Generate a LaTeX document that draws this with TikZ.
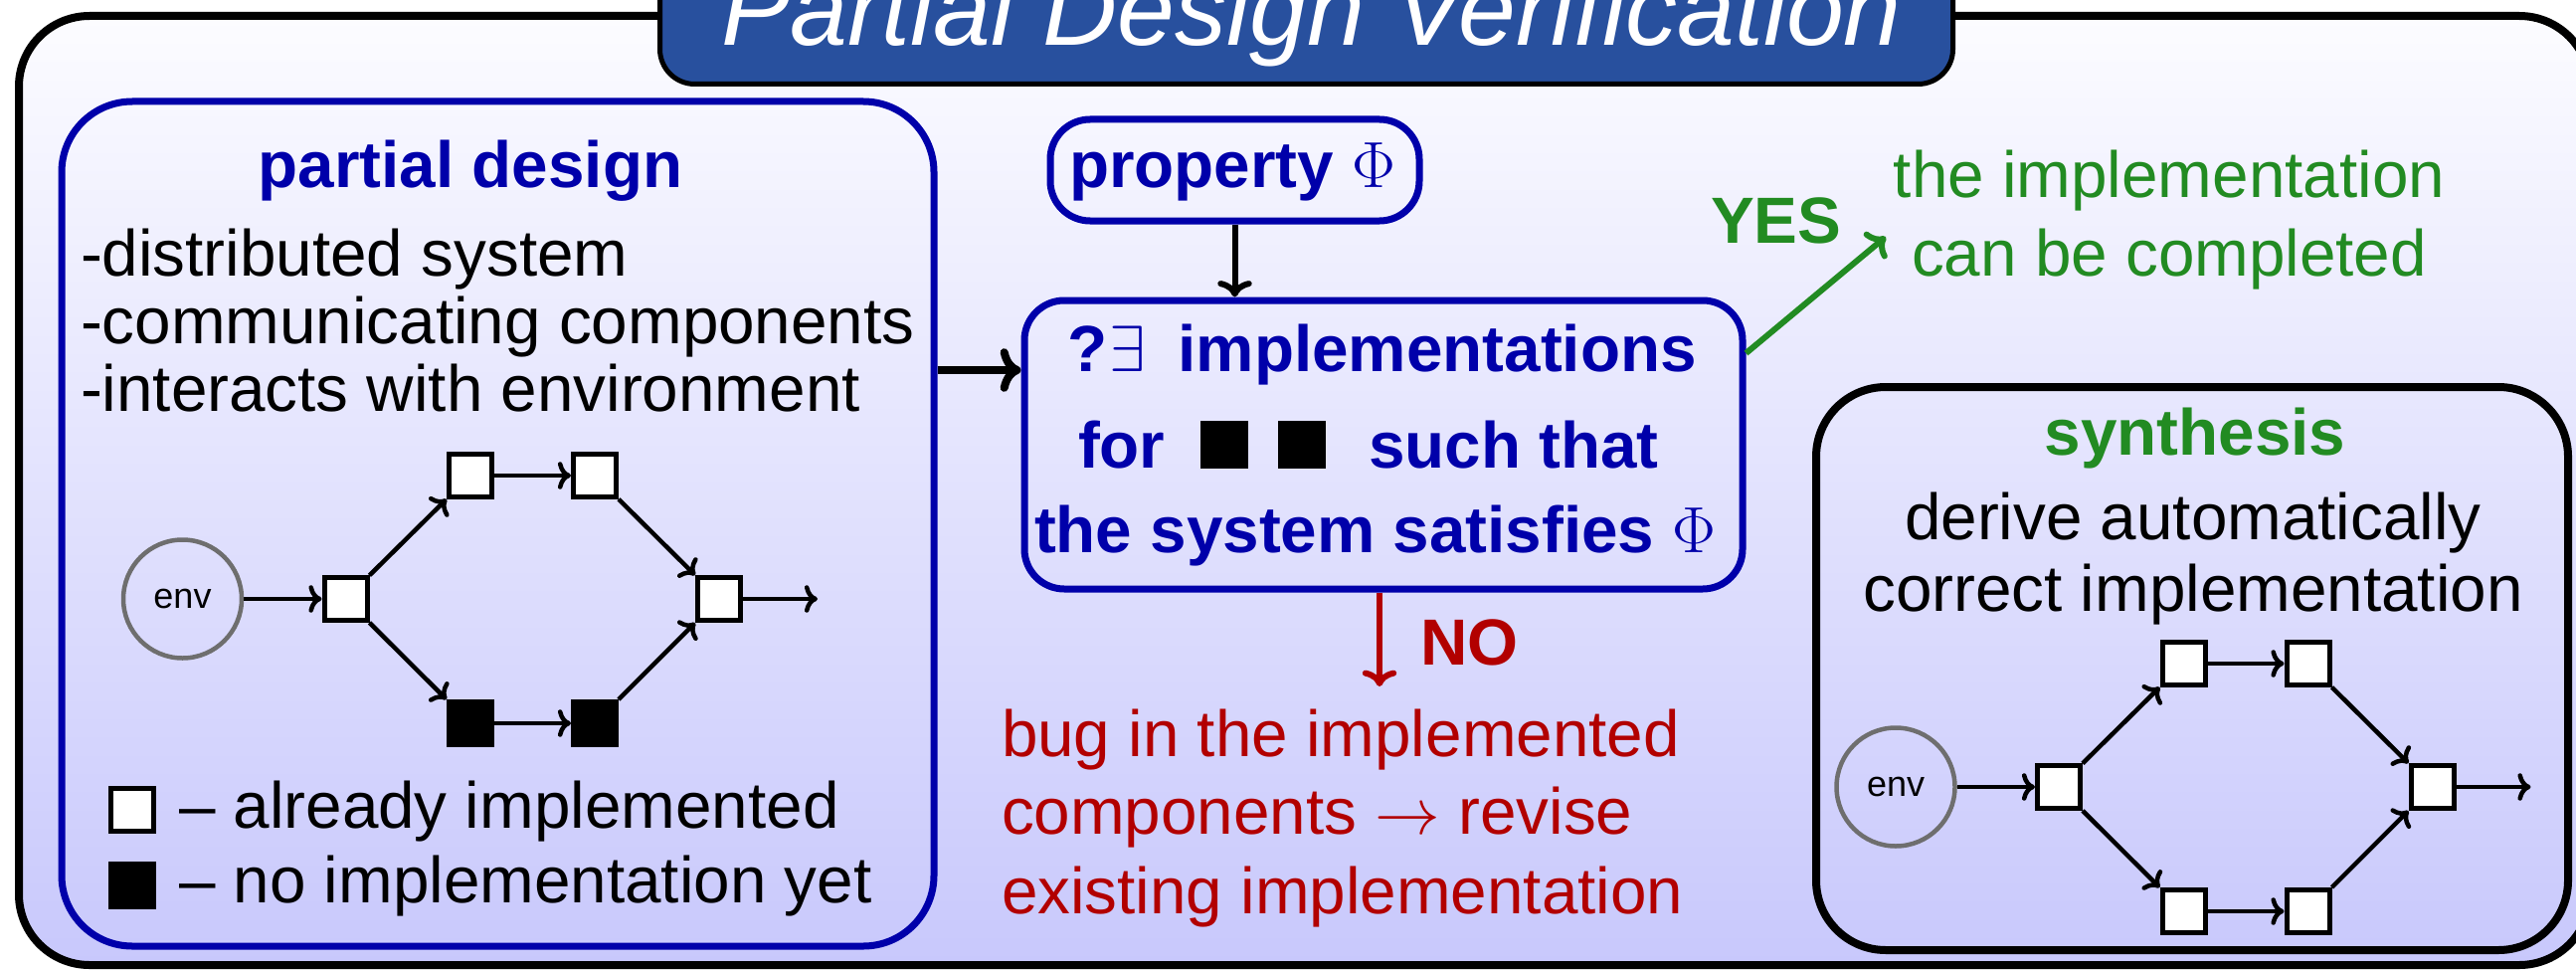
\documentclass[tikz,border=0pt]{standalone}
\usepackage{graphicx}
\usepackage{fontspec}
\setmainfont{Liberation Sans}
\usetikzlibrary{arrows.meta}
\definecolor{pblue}{RGB}{0,0,170}
\definecolor{pgreen}{RGB}{34,139,34}
\definecolor{pred}{RGB}{178,0,0}
\definecolor{ptitle}{RGB}{40,80,158}
\definecolor{bgtop}{RGB}{252,252,255}
\definecolor{bgbot}{RGB}{200,200,252}
\definecolor{envgray}{RGB}{110,110,110}
\newcommand\bodyfont{\fontsize{32.8}{39}\selectfont}
\newcommand\bigmath[1]{\scalebox{1.318}{$#1$}}
\begin{document}
\begin{tikzpicture}[x=0.5pt,y=-0.5pt,
  txt/.style={inner sep=0pt, outer sep=0pt, font=\bodyfont},
  btxt/.style={inner sep=0pt, outer sep=0pt, font=\bodyfont\bfseries},
  bluebox/.style={draw=pblue, line width=3.5pt, inner sep=0pt},
  blackbox/.style={draw=black, line width=4pt, inner sep=0pt},
  comp/.style={draw=black, line width=2.5pt, fill=white, minimum size=21.5pt, inner sep=0pt},
  compx/.style={comp, fill=black},
  flow/.style={line width=2.25pt, ->},
  envnode/.style={circle, draw=envgray, line width=2.25pt, minimum size=59.5pt, inner sep=0pt, font=\fontsize{18}{20}\selectfont}]
\useasboundingbox (0,0) rectangle (2590,974);
\clip (0,0) rectangle (2590,974);
\fill[white] (0,0) rectangle (2590,974);
% outer frame
\shade[top color=bgtop, bottom color=bgbot, rounded corners=35.5pt] (19,16) rectangle (2604,970);
\draw[line width=4pt, rounded corners=35.5pt] (19,16) rectangle (2604,970);
% title
\node[draw=black, line width=2.5pt, fill=ptitle, rounded corners=17.5pt, minimum width=650pt, minimum height=72.25pt, inner sep=0pt] (title) at (1313.5,12.25) {};
\node[anchor=base, inner sep=0pt, text=white, font=\fontsize{52}{60}\selectfont\itshape] (titletext) at (1318.5,46) {Partial Design Verification};
% left box
\node[bluebox, rounded corners=35.5pt, minimum width=438.5pt, minimum height=424.5pt] (lb) at (500.5,526.5) {};
\node[btxt, anchor=base, text=pblue] (lbhead) at (473,188) {partial design};
\node[txt, anchor=base west] (l1) at (81,277) {-distributed system};
\node[txt, anchor=base west] (l2) at (81,345) {-communicating components};
\node[txt, anchor=base west] (l3) at (81,413) {-interacts with environment};
% left graph
\node[envnode] (env) at (183.5,602) {env};
\node[comp] (a1) at (347.5,602) {};
\node[comp] (a2) at (473,478) {};
\node[comp] (a3) at (598,478) {};
\node[comp] (a4) at (723,602) {};
\node[compx] (a5) at (473,727) {};
\node[compx] (a6) at (598,727) {};
\coordinate (aout) at (822,602);
\draw[flow] (env) -- (a1);
\draw[flow] (a1) -- (a2);
\draw[flow] (a2) -- (a3);
\draw[flow] (a3) -- (a4);
\draw[flow] (a1) -- (a5);
\draw[flow] (a5) -- (a6);
\draw[flow] (a6) -- (a4);
\draw[flow] (a4) -- (aout);
% legend
\node[comp] (lgw) at (132.5,814) {};
\node[compx] (lgb) at (132.5,889.5) {};
\node[txt, anchor=base west] (lgwt) at (180,832) {– already implemented};
\node[txt, anchor=base west] (lgbt) at (180,907) {– no implementation yet};
% property box
\node[bluebox, rounded corners=20pt, minimum width=185.5pt, minimum height=51pt] (prop) at (1241.5,171) {};
\node[btxt, anchor=base west, text=pblue] (propt) at (1075,188) {property \bigmath{\Phi}};
% implementation box
\node[bluebox, rounded corners=20pt, minimum width=361pt, minimum height=145pt] (impl) at (1391,447) {};
\node[btxt, anchor=base west, text=pblue] (i1) at (1073,373) {?\hspace{1pt}\bigmath{\exists}\hspace{16.5pt}implementations};
\node[btxt, anchor=base west, text=pblue] (i2a) at (1084,470) {for};
\node[fill=black, minimum size=24pt, inner sep=0pt] (q1) at (1231,447) {};
\node[fill=black, minimum size=24pt, inner sep=0pt] (q2) at (1309,447) {};
\node[btxt, anchor=base west, text=pblue] (i2b) at (1376,470) {such that};
\node[btxt, anchor=base west, text=pblue] (i3) at (1040,555) {the system satisfies \bigmath{\Phi}};
% arrows into implementation box
\coordinate (arrowy) at (0,372);
\draw[line width=4pt, ->] (lb.east |- arrowy) -- (impl.west |- arrowy);
\draw[line width=3pt, ->] (prop.south) -- (prop.south |- impl.north);
% NO branch
\coordinate (noend) at (1387,690);
\draw[pred, line width=3pt, ->] (impl.south -| noend) -- (noend);
\node[btxt, anchor=base west, text=pred] (no) at (1428,668) {NO};
\node[txt, anchor=base west, text=pred] (r1) at (1007,760) {bug in the implemented};
\node[txt, anchor=base west, text=pred] (r2) at (1007,838) {components \bigmath{\rightarrow} revise};
\node[txt, anchor=base west, text=pred] (r3) at (1007,918) {existing implementation};
% YES branch
\coordinate (yesfrom) at (1755,355);
\coordinate (yestip) at (1896,238);
\draw[pgreen, line width=3pt, ->] (impl.east |- yesfrom) -- (yestip);
\node[btxt, anchor=base west, text=pgreen] (yes) at (1720,244) {YES};
\node[txt, anchor=base, text=pgreen] (g1) at (2181,198) {the implementation};
\node[txt, anchor=base, text=pgreen] (g2) at (2181,277) {can be completed};
% synthesis box
\node[blackbox, rounded corners=35pt, minimum width=378pt, minimum height=283pt] (synth) at (2204,672) {};
\node[btxt, anchor=base, text=pgreen] (s0) at (2207,457) {synthesis};
\node[txt, anchor=base] (s1) at (2205,542) {derive automatically};
\node[txt, anchor=base] (s2) at (2205,614) {correct implementation};
% right graph
\node[envnode] (benv) at (1906,791) {env};
\node[comp] (b1) at (2070,791) {};
\node[comp] (b2) at (2195.5,667) {};
\node[comp] (b3) at (2320.5,667) {};
\node[comp] (b4) at (2445.5,791) {};
\node[comp] (b5) at (2195.5,916) {};
\node[comp] (b6) at (2320.5,916) {};
\coordinate (bout) at (2544.5,791);
\draw[flow] (benv) -- (b1);
\draw[flow] (b1) -- (b2);
\draw[flow] (b2) -- (b3);
\draw[flow] (b3) -- (b4);
\draw[flow] (b1) -- (b5);
\draw[flow] (b5) -- (b6);
\draw[flow] (b6) -- (b4);
\draw[flow] (b4) -- (bout);
\end{tikzpicture}
\end{document}
